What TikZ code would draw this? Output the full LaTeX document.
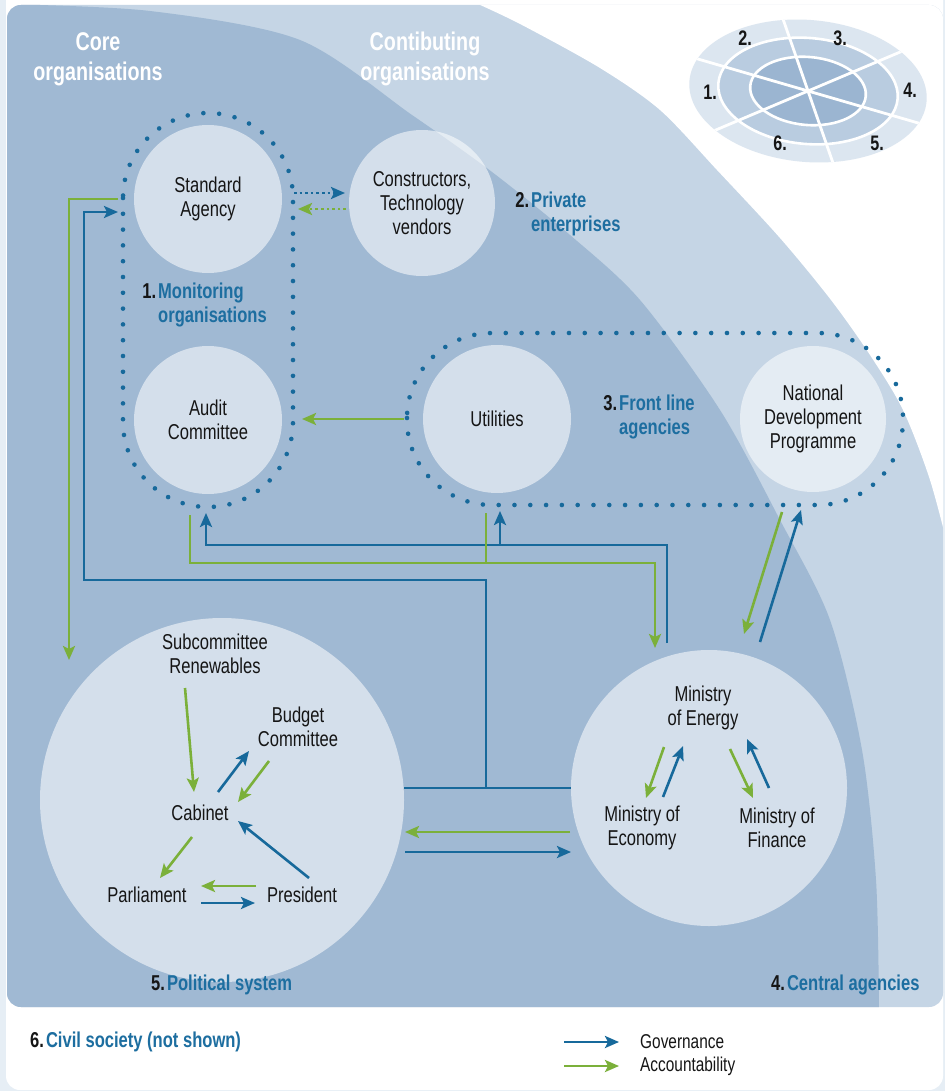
\documentclass[tikz,border=0pt]{standalone}
\usepackage{fontspec}
\setmainfont{Liberation Sans}[FakeStretch=0.77]
\usetikzlibrary{arrows.meta,calc}
\definecolor{framebg}{HTML}{E6EEF5}
\definecolor{darkbg}{HTML}{A0B9D3}
\definecolor{lightbg}{HTML}{C5D5E5}
\definecolor{govblue}{HTML}{17699B}
\definecolor{accgreen}{HTML}{7BB03A}
\definecolor{lblue}{HTML}{1D6EA0}
\definecolor{txt}{HTML}{151515}
\definecolor{ringA}{HTML}{DCE6F0}
\definecolor{ringB}{HTML}{B9CCE0}
\definecolor{ringC}{HTML}{9BB5D1}
\begin{document}
\begin{tikzpicture}[x=1pt,y=-1pt,
  tip/.style={-{Stealth[length=14pt,width=12pt,inset=3pt]}},
  gov/.style={draw=govblue,line width=2.6pt,tip},
  acc/.style={draw=accgreen,line width=2.6pt,tip},
  govline/.style={draw=govblue,line width=2.6pt},
  accline/.style={draw=accgreen,line width=2.6pt},
  dotbox/.style={draw=govblue,line width=4.6pt,line cap=round,dash pattern=on 0pt off 15.8pt,rounded corners=85pt},
  smalldots/.style={dash pattern=on 2.6pt off 3pt},
  txtfont/.style={font=\fontsize{21.5}{24}\selectfont,text=txt},
  circ/.style={circle,fill=white,fill opacity=0.55,text opacity=1,inner sep=0pt,align=center,txtfont},
  plain/.style={txtfont,align=center,inner sep=0pt},
  lbl/.style={font=\bfseries\fontsize{21.5}{24}\selectfont,text=lblue,align=left,inner sep=0pt},
  head/.style={font=\bfseries\fontsize{25.6}{30}\selectfont,text=white,align=center,inner sep=0pt},
  ringnum/.style={font=\bfseries\fontsize{21}{22}\selectfont,text=txt,inner sep=0pt},
  legend/.style={font=\fontsize{20}{22}\selectfont,text=txt,inner sep=0pt,anchor=west},
]
\useasboundingbox (0,0) rectangle (945,1091);
% frame and card
\fill[framebg] (0,0) rectangle (945,1091);
\fill[white,rounded corners=14pt] (6,-20) rectangle (943,1090);
% panel
\begin{scope}
  \clip[rounded corners=14pt] (7,5) rectangle (943,1007);
  \fill[lightbg] (0,0) rectangle (950,1010);
  \fill[white] (478,0) -- plot[smooth] coordinates {(478,4) (522,25) (600,68) (660,110) (717,170) (780,238) (831,300) (870,355) (903,410) (930,480) (950,555)} -- (950,0) -- cycle;
  \fill[darkbg] (0,0) -- plot[smooth] coordinates {(0,4) (150,11) (300,40) (412,115) (492,172) (570,235) (640,300) (720,410) (780,520) (830,620) (862,750) (876,880) (879,1010)} -- (0,1010) -- cycle;
\end{scope}

% ring icon
\begin{scope}[rotate around={-5:(808,91)}]
  \fill[ringA] (808,91) ellipse [x radius=119, y radius=71];
  \fill[ringB] (808,91) ellipse [x radius=90, y radius=53];
  \fill[ringC] (808,91) ellipse [x radius=58, y radius=34];
  \draw[white,line width=2.6pt] (808,91) ellipse [x radius=90, y radius=53];
  \draw[white,line width=2.6pt] (808,91) ellipse [x radius=58, y radius=34];
\end{scope}
\begin{scope}
  \clip[rotate around={-5:(808,91)}] (808,91) ellipse [x radius=119, y radius=71];
  \draw[white,line width=2.8pt] (758,-53) -- (858,235);
  \draw[white,line width=2.8pt] (660,48) -- (956,134);
  \draw[white,line width=2.8pt] (938,36) -- (678,146);
\end{scope}
\node[ringnum] (r1) at (710,92) {1.};
\node[ringnum] (r2) at (745,38) {2.};
\node[ringnum] (r3) at (840,38) {3.};
\node[ringnum] (r4) at (910,90) {4.};
\node[ringnum] (r5) at (877,143) {5.};
\node[ringnum] (r6) at (780,143) {6.};

% headings
\node[head] (hcore) at (98,59) {Core\\organisations};
\node[head] (hcon) at (425,59) {Contibuting\\organisations};

% dotted groups
\draw[dotbox] (123,113) rectangle (293,507);
\draw[dotbox] (407,333) rectangle (903,505);

% circles
\node[circ,minimum size=148pt] (sa) at (208,199) {Standard\\Agency};
\node[circ,minimum size=146pt] (cv) at (422,203) {Constructors,\\Technology\\vendors};
\node[circ,minimum size=148pt] (ac) at (208,420) {Audit\\Committee};
\node[circ,minimum size=148pt] (ut) at (497,419) {Utilities};
\node[circ,minimum size=146pt] (ndp) at (813,419) {National\\Development\\Programme};
\node[circ,minimum size=364pt] (pol) at (222,800) {};
\node[circ,minimum size=276pt] (min) at (709,788) {};

% group labels
\node[lbl,anchor=west] (l1) at (158,305) {\llap{\textcolor{txt}{1.}\kern2pt}Monitoring\\organisations};
\node[lbl,anchor=west] (l2) at (531,214) {\llap{\textcolor{txt}{2.}\kern2pt}Private\\enterprises};
\node[lbl,anchor=west] (l3) at (619,417) {\llap{\textcolor{txt}{3.}\kern2pt}Front line\\agencies};
\node[lbl,anchor=west] (l5) at (151,985) {\textcolor{txt}{5.}\kern2pt Political system};
\node[lbl,anchor=west] (l4) at (771,985) {\textcolor{txt}{4.}\kern2pt Central agencies};
\node[lbl,anchor=west] (l6) at (30,1042) {\textcolor{txt}{6.}\kern2pt Civil society (not shown)};

% inner texts
\node[plain] (sub) at (215,654) {Subcommittee\\Renewables};
\node[plain] (bud) at (298,727) {Budget\\Committee};
\node[plain] (cab) at (200,813) {Cabinet};
\node[plain] (par) at (147,895) {Parliament};
\node[plain] (pre) at (302,895) {President};
\node[plain] (ene) at (703,708) {Ministry\\of Energy};
\node[plain] (eco) at (642,828) {Ministry of\\Economy};
\node[plain] (fin) at (777,828) {Ministry of\\Finance};

% connector coordinates
\coordinate (saG) at (118,199);
\coordinate (saB) at (118,212);
\coordinate (polG) at (69,660);
\coordinate (jB) at (486,788);
\coordinate (acB) at (206,513);
\coordinate (utB) at (500,511);
\coordinate (acG) at (190,515);
\coordinate (utG) at (486,513);
\coordinate (minGin) at (655,648);
\coordinate (minBout) at (667,643);
\coordinate (ndpG) at (782,512);
\coordinate (minG2) at (744,634);
\coordinate (minB2) at (760,642);
\coordinate (ndpB) at (801,510);
\coordinate (utL) at (404,419);
\coordinate (acR) at (302,419);
\coordinate (saDB) at (294,193);
\coordinate (cvDB) at (345,193);
\coordinate (cvDG) at (346,209);
\coordinate (saDG) at (298,209);
\coordinate (polA) at (405,832);
\coordinate (minA) at (570,832);
\coordinate (polB) at (405,852);
\coordinate (minB) at (571,852);

% outer connectors
\draw[acc] (saG) -- (69,199) -- (polG);
\draw[govline] (pol.east |- jB) -- (min.west |- jB);
\draw[gov] (jB) -- (486,580) -- (84,580) -- (84,212) -- (saB);
\draw[gov] (minBout) -- (667,545) -- (206,545) -- (acB);
\draw[gov] (500,545) -- (utB);
\draw[acc] (acG) -- (190,563) -- (655,563) -- (minGin);
\draw[accline] (utG) -- (486,563);
\draw[acc] (ndpG) -- (minG2);
\draw[gov] (minB2) -- (ndpB);
\draw[acc] (utL) -- (acR);
\draw[gov,smalldots] (saDB) -- (cvDB);
\draw[acc,smalldots] (cvDG) -- (saDG);
\draw[acc] (minA) -- (polA);
\draw[gov] (polB) -- (minB);

% political system arrows
\coordinate (p1a) at (185,688); \coordinate (p1b) at (194,792);
\coordinate (p2a) at (218,792); \coordinate (p2b) at (249,751);
\coordinate (p3a) at (269,761); \coordinate (p3b) at (238,802);
\coordinate (p4a) at (309,878); \coordinate (p4b) at (238,821);
\coordinate (p5a) at (192,837); \coordinate (p5b) at (160,878);
\coordinate (p6a) at (256,886); \coordinate (p6b) at (201,886);
\coordinate (p7a) at (201,903); \coordinate (p7b) at (255,903);
\draw[acc] (p1a) -- (p1b);
\draw[gov] (p2a) -- (p2b);
\draw[acc] (p3a) -- (p3b);
\draw[gov] (p4a) -- (p4b);
\draw[acc] (p5a) -- (p5b);
\draw[acc] (p6a) -- (p6b);
\draw[gov] (p7a) -- (p7b);

% ministry arrows
\coordinate (m1a) at (664,747); \coordinate (m1b) at (646,798);
\coordinate (m2a) at (663,797); \coordinate (m2b) at (683,746);
\coordinate (m3a) at (730,749); \coordinate (m3b) at (753,798);
\coordinate (m4a) at (769,788); \coordinate (m4b) at (747,739);
\draw[acc] (m1a) -- (m1b);
\draw[gov] (m2a) -- (m2b);
\draw[acc] (m3a) -- (m3b);
\draw[gov] (m4a) -- (m4b);

% legend
\coordinate (lg1a) at (564,1042); \coordinate (lg1b) at (619,1042);
\coordinate (lg2a) at (564,1066); \coordinate (lg2b) at (619,1066);
\draw[gov] (lg1a) -- (lg1b);
\draw[acc] (lg2a) -- (lg2b);
\node[legend] (lgov) at (640,1042) {Governance};
\node[legend] (lacc) at (640,1066) {Accountability};
\end{tikzpicture}
\end{document}
